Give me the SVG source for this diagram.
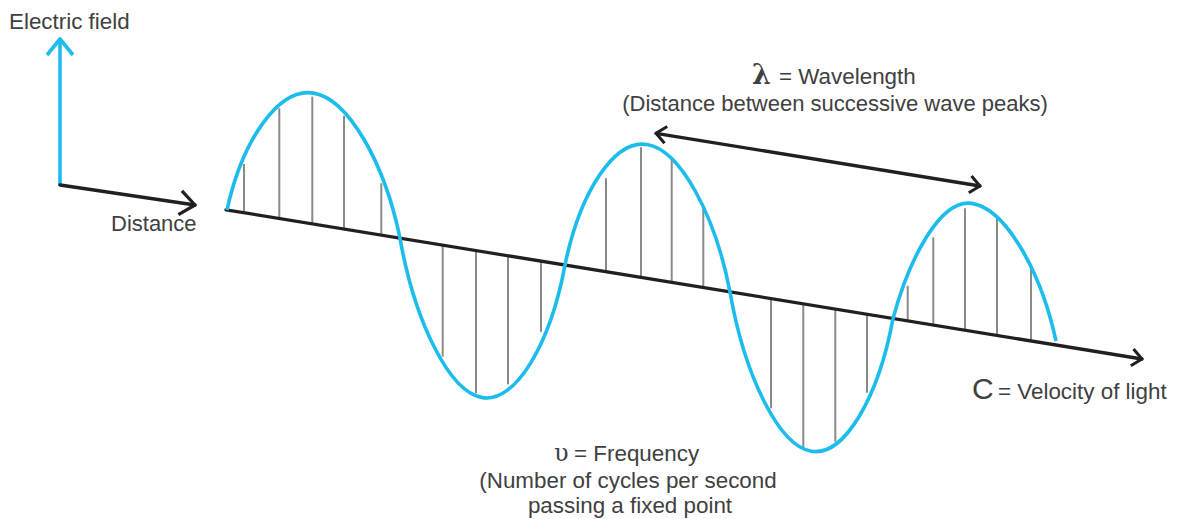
<svg xmlns="http://www.w3.org/2000/svg" width="1181" height="519" viewBox="0 0 1181 519">
  <style>
    .lbl { font-family: "Liberation Sans", Arial, sans-serif; font-size: 22.4px; fill: #404041; }
    .lbl.s22 { font-size: 22px; }
    .sym { font-family: "DejaVu Serif", "Liberation Serif", serif; fill: #404041; }
    .big { font-family: "Liberation Sans", Arial, sans-serif; font-size: 30px; fill: #404041; }
    .tick { stroke: #8a8a8a; stroke-width: 2; fill: none; }
    .blk { stroke: #231f20; stroke-width: 3.3; fill: none; stroke-linecap: round; }
    .blu { stroke: #1cbcec; stroke-width: 3.6; fill: none; stroke-linecap: butt; }
  </style>
  <defs>
    <marker id="chevBlue" markerUnits="userSpaceOnUse" viewBox="-20 -16 24 32" refX="0" refY="0" markerWidth="24" markerHeight="32" orient="auto" overflow="visible">
      <path d="M-16,-13 L0,0 L-16,13" fill="none" stroke="#1cbcec" stroke-width="3.6" stroke-linejoin="round" stroke-linecap="butt"/>
    </marker>
    <marker id="chevBig" markerUnits="userSpaceOnUse" viewBox="-20 -16 24 32" refX="0" refY="0" markerWidth="24" markerHeight="32" orient="auto" overflow="visible">
      <path d="M-15,-12 L0,0 L-15,12" fill="none" stroke="#231f20" stroke-width="3.3" stroke-linejoin="round" stroke-linecap="butt"/>
    </marker>
    <marker id="chevSmall" markerUnits="userSpaceOnUse" viewBox="-14 -12 18 24" refX="0" refY="0" markerWidth="18" markerHeight="24" orient="auto-start-reverse" overflow="visible">
      <path d="M-10,-8.5 L0,0 L-10,8.5" fill="none" stroke="#231f20" stroke-width="3" stroke-linejoin="round" stroke-linecap="butt"/>
    </marker>
  </defs>

  <rect width="1181" height="519" fill="#ffffff"/>

  <!-- field ticks -->
  <g id="field-lines" class="tick">
    <line x1="244" y1="164" x2="244" y2="212.8"/>
    <line x1="279.3" y1="108.3" x2="279.3" y2="218.5"/>
    <line x1="312.3" y1="96.7" x2="312.3" y2="223.9"/>
    <line x1="344" y1="115.7" x2="344" y2="229.1"/>
    <line x1="381.3" y1="183.3" x2="381.3" y2="235.2"/>
    <line x1="442.7" y1="245.2" x2="442.7" y2="356.7"/>
    <line x1="476" y1="250.6" x2="476" y2="393.3"/>
    <line x1="508" y1="255.8" x2="508" y2="384.3"/>
    <line x1="541" y1="261.2" x2="541" y2="331.7"/>
    <line x1="606" y1="178.3" x2="606" y2="271.8"/>
    <line x1="641" y1="147.3" x2="641" y2="277.5"/>
    <line x1="671.7" y1="158.3" x2="671.7" y2="282.5"/>
    <line x1="703.3" y1="206" x2="703.3" y2="287.6"/>
    <line x1="771" y1="298.7" x2="771" y2="408.3"/>
    <line x1="803.3" y1="303.9" x2="803.3" y2="447.3"/>
    <line x1="835.3" y1="309.2" x2="835.3" y2="441.7"/>
    <line x1="867" y1="314.3" x2="867" y2="392.7"/>
    <line x1="907.7" y1="285.7" x2="907.7" y2="321"/>
    <line x1="933.3" y1="237.3" x2="933.3" y2="325.1"/>
    <line x1="965" y1="208.3" x2="965" y2="330.3"/>
    <line x1="997" y1="217.7" x2="997" y2="335.5"/>
    <line x1="1031" y1="266" x2="1031" y2="341.1"/>
  </g>

  <!-- connectors -->
  <g id="connectors">
    <line id="axis-field" class="blu" x1="60" y1="186" x2="60" y2="39" marker-end="url(#chevBlue)"/>
    <line id="axis-distance" class="blk" x1="60" y1="185" x2="195" y2="205" marker-end="url(#chevBig)"/>
    <line id="axis-propagation" class="blk" x1="226" y1="209.8" x2="1142" y2="359" marker-end="url(#chevSmall)"/>
    <line id="wavelength-arrow" class="blk" x1="656" y1="133.3" x2="980" y2="186" marker-start="url(#chevSmall)" marker-end="url(#chevSmall)"/>
  </g>

  <!-- wave -->
  <g id="wave">
    <path class="blu" stroke-linecap="butt" d="M227,210
      C242.6,139.1 278.9,87.5 313.5,93.1
      C348.1,98.7 384.4,162.3 400,238.2
      C414.9,322.4 449.5,392.3 482.5,397.6
      C515.5,403 550.2,344.5 565,265.1
      C579.8,192.5 614.2,139.1 647,144.5
      C680.2,149.9 715.1,214.6 730,292
      C744.7,376.2 778.9,446 811.5,451.3
      C844.1,456.6 878.3,398 893,318.6
      C909,259 940.4,198.3 972,203.4
      C1005.6,208.9 1040.9,271 1056,341"/>
  </g>

  <!-- labels -->
  <g id="label-electric-field">
    <text class="lbl" x="9" y="29">Electric field</text>
  </g>
  <g id="label-distance">
    <text class="lbl s22" x="111" y="231">Distance</text>
  </g>
  <g id="label-wavelength">
    <text class="sym" x="752" y="84" font-size="27" font-weight="bold">λ</text>
    <text class="lbl" x="779" y="84">= Wavelength</text>
    <text class="lbl s22" x="835" y="111" text-anchor="middle">(Distance between successive wave peaks)</text>
  </g>
  <g id="label-frequency">
    <text class="sym" x="554" y="461" font-size="24">υ</text>
    <text class="lbl" x="574" y="461">= Frequency</text>
    <text class="lbl" x="628" y="488" text-anchor="middle">(Number of cycles per second</text>
    <text class="lbl" x="630" y="513" text-anchor="middle">passing a fixed point</text>
  </g>
  <g id="label-velocity">
    <text class="big" x="972" y="399">C</text>
    <text class="lbl" x="998" y="399">= Velocity of light</text>
  </g>
</svg>
